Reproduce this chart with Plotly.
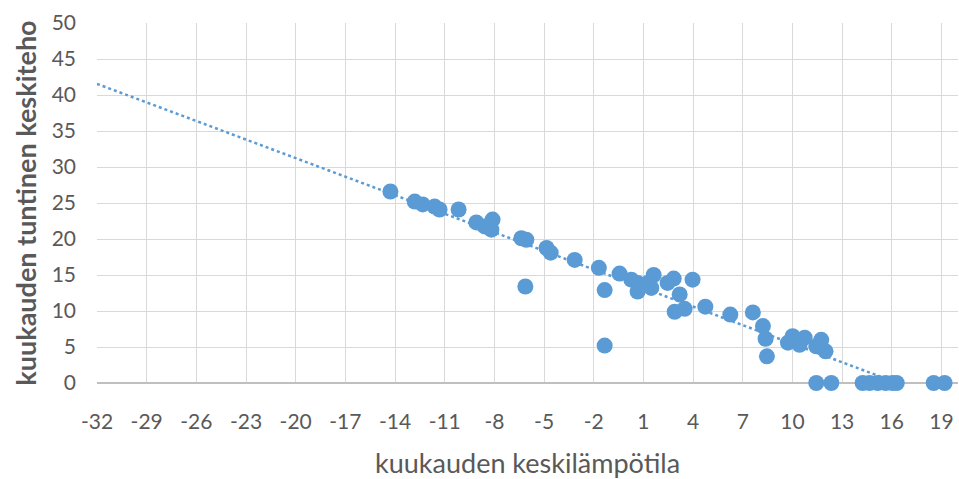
import numpy as np
import plotly.graph_objects as go

# monthly mean temperature (x) and monthly hourly mean power (y)
temperature = [-14.28, -12.81, -12.33, -11.61, -11.31, -10.16, -9.09, -8.59, -8.11, -8.18,
               -6.37, -6.07, -6.13, -4.85, -4.6, -3.15, -1.69, -1.34, -1.34, -0.44,
               0.27, 0.65, 0.65, 1.26, 1.62, 1.48, 2.46, 2.83, 3.19, 2.89,
               3.49, 3.97, 4.74, 6.25, 7.61, 8.22, 8.38, 8.46, 9.73, 10.01,
               10.74, 10.43, 11.74, 11.44, 12.0, 11.44, 12.35, 14.24, 14.66, 15.15,
               15.63, 16.05, 16.3, 18.53, 19.19]
power = [26.6, 25.2, 24.8, 24.5, 24.1, 24.1, 22.3, 21.75, 22.7, 21.3,
         20.1, 19.9, 13.4, 18.75, 18.1, 17.1, 16.0, 12.9, 5.2, 15.2,
         14.35, 13.9, 12.7, 13.9, 15.0, 13.2, 13.9, 14.5, 12.3, 9.9,
         10.3, 14.35, 10.6, 9.5, 9.8, 7.9, 6.15, 3.7, 5.6, 6.5,
         6.3, 5.3, 6.0, 5.1, 4.4, 0, 0, 0, 0, 0,
         0, 0, 0, 0, 0]

x_tick_values = list(range(-32, 20, 3))
y_tick_values = list(range(0, 51, 5))
x_title = "kuukauden keskilämpötila"
y_title = "kuukauden tuntinen keskiteho"

blue = "#5B9BD5"
gray_text = "#595959"
grid = "#D9D9D9"

# linear trendline (least squares), drawn across the whole axis range
slope, intercept = np.polyfit(temperature, power, 1)
trend_x = np.array([-32.0, 20.0])
trend_y = slope * trend_x + intercept

fig = go.Figure()
fig.add_trace(go.Scatter(
    x=trend_x, y=trend_y, mode="lines",
    line=dict(color=blue, width=2.5, dash="dot"),
    hoverinfo="skip", showlegend=False,
))
fig.add_trace(go.Scatter(
    x=temperature, y=power, mode="markers",
    marker=dict(color=blue, size=16, line=dict(width=0)),
    cliponaxis=False, showlegend=False,
))

font_family = "Lato, Open Sans, sans-serif"
fig.update_layout(
    width=959, height=479,
    margin=dict(l=97, r=1, t=23, b=96),
    paper_bgcolor="white", plot_bgcolor="white",
    font=dict(family=font_family, color=gray_text),
    showlegend=False,
)
fig.update_xaxes(
    range=[-32, 20], tickmode="array", tickvals=x_tick_values,
    ticktext=[str(v) for v in x_tick_values],
    showgrid=True, gridcolor=grid, gridwidth=1,
    zeroline=False, showline=False, automargin=False,
    ticks="", ticklabelstandoff=24,
    tickfont=dict(size=21, color=gray_text),
)
fig.update_yaxes(
    range=[0, 50], tickmode="array", tickvals=y_tick_values,
    showgrid=True, gridcolor=grid, gridwidth=1,
    zeroline=True, zerolinecolor="#BFBFBF", zerolinewidth=1.5, showline=False,
    automargin=False,
    ticks="", ticklabelstandoff=20,
    tickfont=dict(size=21, color=gray_text),
)
fig.add_annotation(
    text=x_title, xref="paper", yref="paper", x=0.5, y=-0.222,
    xanchor="center", yanchor="middle", showarrow=False,
    font=dict(size=27, color=gray_text, family=font_family),
)
fig.add_annotation(
    text="<b>" + y_title + "</b>", xref="paper", yref="paper", x=-0.084, y=0.5,
    xanchor="center", yanchor="middle", textangle=-90, showarrow=False,
    font=dict(size=27, color=gray_text, family=font_family),
)

fig.write_html("out.html", config={"displayModeBar": False},
               post_script="document.body.style.margin='0';")
